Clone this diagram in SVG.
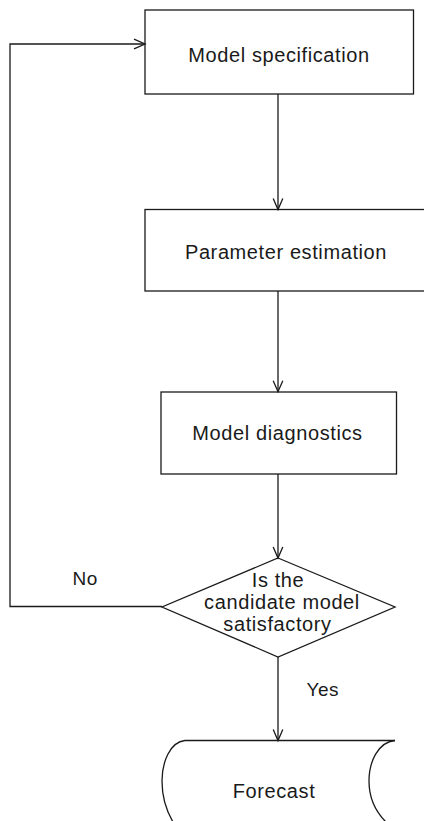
<svg xmlns="http://www.w3.org/2000/svg" width="424" height="821" viewBox="0 0 424 821">
<style>
.shape{fill:none;stroke:#1a1a1a;stroke-width:1.3}
.ln{fill:none;stroke:#1a1a1a;stroke-width:1.3}
.t{font-family:"Liberation Sans",Arial,sans-serif;font-size:20px;letter-spacing:0.6px;fill:#1a1a1a}
.m{text-anchor:middle}
.lbl{font-family:"Liberation Sans",Arial,sans-serif;font-size:19px;letter-spacing:0.5px;fill:#1a1a1a}
</style>
<defs>
<marker id="arr" markerWidth="14" markerHeight="12" refX="12" refY="6" orient="auto" markerUnits="userSpaceOnUse">
<path d="M1,1.2 L12,6 L1,10.8" fill="none" stroke="#1a1a1a" stroke-width="1.3"/>
</marker>
</defs>
<rect width="424" height="821" fill="#fff"/>
<g id="connectors">
<path class="ln" d="M278,94 V209.5" marker-end="url(#arr)"/>
<path class="ln" d="M278,291 V391.7" marker-end="url(#arr)"/>
<path class="ln" d="M278,474 V558" marker-end="url(#arr)"/>
<path class="ln" d="M162,606.5 H10 V44 H145" marker-end="url(#arr)"/>
<path class="ln" d="M278,657 V740.5" marker-end="url(#arr)"/>
<text class="lbl" x="72.5" y="585">No</text>
<text class="lbl" x="306.5" y="696">Yes</text>
</g>
<g id="model-specification">
<rect class="shape" x="145" y="10" width="268.5" height="84"/>
<text class="t m" x="279" y="61.5">Model specification</text>
</g>
<g id="parameter-estimation">
<rect class="shape" x="145" y="209.5" width="290" height="81.5"/>
<text class="t m" x="286" y="258.5">Parameter estimation</text>
</g>
<g id="model-diagnostics">
<rect class="shape" x="161" y="392" width="235.5" height="82"/>
<text class="t m" x="277.5" y="440">Model diagnostics</text>
</g>
<g id="decision">
<polygon class="shape" points="278,558 395,607 278,657 162,607"/>
<text class="t m" x="278" y="586.5">Is the</text>
<text class="t m" x="282" y="608.5">candidate model</text>
<text class="t m" x="277.5" y="630.5">satisfactory</text>
</g>
<g id="forecast">
<path class="shape" d="M185,740.5 H395"/>
<path class="shape" d="M185,740.5 C170,742 162,762 162,781 C162,797 166,810 173,822"/>
<path class="shape" d="M395,740.5 C378,742 369,762 369,781 C369,798 375,811 386,822"/>
<text class="t m" x="274" y="798">Forecast</text>
</g>
</svg>
